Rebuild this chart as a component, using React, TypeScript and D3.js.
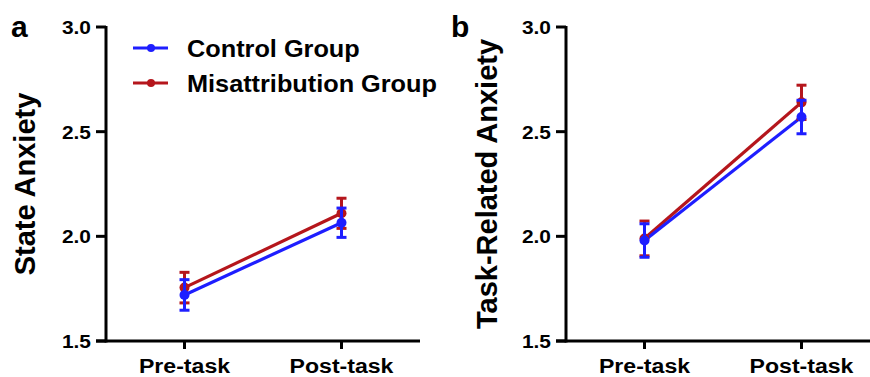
import React from "react";
import * as d3 from "d3";

const phases = ["Pre-task", "Post-task"];
const groups = ["Control Group", "Misattribution Group"];
const groupColors = ["#1e1eff", "#b5161c"];
const yTicks = [1.5, 2.0, 2.5, 3.0];

// Panel a: State Anxiety
const stateControlMean = [1.72, 2.065];
const stateControlSem = [0.073, 0.07];
const stateMisMean = [1.755, 2.11];
const stateMisSem = [0.073, 0.072];

// Panel b: Task-Related Anxiety
const taskControlMean = [1.98, 2.57];
const taskControlSem = [0.08, 0.08];
const taskMisMean = [1.99, 2.64];
const taskMisSem = [0.083, 0.082];

const W = 870;
const H = 377;
const FONT = "'Liberation Sans', Arial, Helvetica, sans-serif";
const SX = 1.1;

type Series = { mean: number[]; sem: number[]; color: string };

function HText({ x, y, anchor, size, children }: any) {
  return (
    <g transform={`translate(${x},${y}) scale(${SX},1)`}>
      <text x={0} y={0} textAnchor={anchor} fontSize={size} fontWeight="bold" fontFamily={FONT} fill="#000">
        {children}
      </text>
    </g>
  );
}

function Panel({ x0, letter, letterX, titleX, title, series, legend }: { x0: number; letter: string; letterX: number; titleX: number; title: string; series: Series[]; legend: boolean }) {
  const axisX = x0;
  const xScale = d3.scalePoint<string>().domain(phases).range([axisX, axisX + 314]).padding(0.5);
  const y = d3.scaleLinear().domain([1.5, 3.0]).range([341, 27]);
  const xEnd = Math.min(axisX + 314, W);
  const line = d3
    .line<number>()
    .x((_, i) => xScale(phases[i]) as number)
    .y((d) => y(d));
  const capW = 5;
  const order = [1, 0];
  return (
    <g>
      <text x={letterX} y={37} fontSize={30} fontWeight="bold" fontFamily={FONT}>
        {letter}
      </text>
      <text
        transform={`translate(${titleX},${y(2.25)}) rotate(-90)`}
        textAnchor="middle"
        fontSize={29}
        fontWeight="bold"
        fontFamily={FONT}
      >
        {title}
      </text>
      <line x1={axisX} x2={axisX} y1={y(3.0) - 1} y2={y(1.5) + 1.5} stroke="#000" strokeWidth={3} />
      {yTicks.map((t) => (
        <g key={t}>
          <line x1={axisX - 10} x2={axisX} y1={y(t)} y2={y(t)} stroke="#000" strokeWidth={3} />
          <HText x={axisX - 15} y={y(t) + 7} anchor="end" size={19}>
            {d3.format(".1f")(t)}
          </HText>
        </g>
      ))}
      <line x1={axisX - 10} x2={xEnd} y1={y(1.5)} y2={y(1.5)} stroke="#000" strokeWidth={3} />
      {phases.map((p) => (
        <g key={p}>
          <line x1={xScale(p)} x2={xScale(p)} y1={y(1.5)} y2={y(1.5) + 8} stroke="#000" strokeWidth={3} />
          <HText x={xScale(p)} y={373} anchor="middle" size={21}>
            {p}
          </HText>
        </g>
      ))}
      {order.map((gi) => {
        const s = series[gi];
        return <path key={gi} d={line(s.mean) as string} fill="none" stroke={s.color} strokeWidth={3.2} />;
      })}
      {order.map((gi) => {
        const s = series[gi];
        return (
          <g key={"m" + gi}>
            {s.mean.map((m, i) => {
              const cx = xScale(phases[i]) as number;
              const top = y(m + s.sem[i]);
              const bot = y(m - s.sem[i]);
              return (
                <g key={i}>
                  <circle cx={cx} cy={y(m)} r={5} fill={s.color} />
                  <line x1={cx} x2={cx} y1={top} y2={bot} stroke={s.color} strokeWidth={3} />
                  <line x1={cx - capW} x2={cx + capW} y1={top} y2={top} stroke={s.color} strokeWidth={3} />
                  <line x1={cx - capW} x2={cx + capW} y1={bot} y2={bot} stroke={s.color} strokeWidth={3} />
                </g>
              );
            })}
          </g>
        );
      })}
      {legend &&
        groups.map((g, i) => {
          const ly = 48 + i * 35;
          return (
            <g key={g}>
              <line x1={133} x2={168} y1={ly} y2={ly} stroke={groupColors[i]} strokeWidth={3} />
              <circle cx={151} cy={ly} r={4} fill={groupColors[i]} />
              <HText x={187} y={ly + 8.5} anchor="start" size={23}>
                {g}
              </HText>
            </g>
          );
        })}
    </g>
  );
}

export default function App() {
  const seriesA: Series[] = [
    { mean: stateControlMean, sem: stateControlSem, color: groupColors[0] },
    { mean: stateMisMean, sem: stateMisSem, color: groupColors[1] },
  ];
  const seriesB: Series[] = [
    { mean: taskControlMean, sem: taskControlSem, color: groupColors[0] },
    { mean: taskMisMean, sem: taskMisSem, color: groupColors[1] },
  ];
  return (
    <svg width={W} height={H} style={{ position: "absolute", left: 0, top: 0, background: "#fff" }}>
      <rect width={W} height={H} fill="#fff" />
      <Panel x0={106} letter="a" letterX={11} titleX={35} title="State Anxiety" series={seriesA} legend={true} />
      <Panel x0={566} letter="b" letterX={451} titleX={497} title="Task-Related Anxiety" series={seriesB} legend={false} />
    </svg>
  );
}
